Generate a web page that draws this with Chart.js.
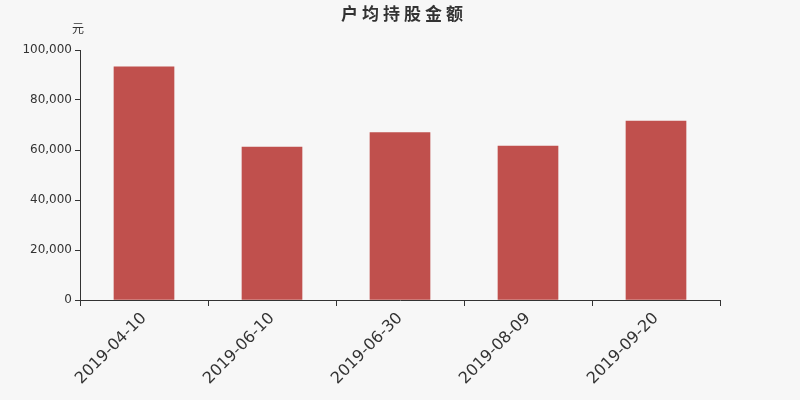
<!DOCTYPE html>
<html>
<head>
<meta charset="utf-8">
<script src="https://cdn.jsdelivr.net/npm/chart.js@4"></script>
<style>
  body { margin: 0; background: #f7f7f7; }
  #wrap { width: 800px; height: 400px; }
</style>
</head>
<body>
<div id="wrap"><canvas id="holding-chart" width="800" height="400"></canvas></div>
<script>
var dates = ["2019-04-10", "2019-06-10", "2019-06-30", "2019-08-09", "2019-09-20"];
var amounts = [93300, 61200, 67000, 61600, 71600];
var yTicks = [0, 20000, 40000, 60000, 80000, 100000];
var chartTitle = '户均持股金额';
var unitLabel = '元';

window.addEventListener("load", init);

// page colour, title (spaced out like the original) and the unit over the y axis
const bgAndText = {
    id: 'bgAndText',
    beforeDraw(chart) {
        const ctx = chart.ctx;
        ctx.save();
        ctx.fillStyle = '#f7f7f7';
        ctx.fillRect(0, 0, chart.width, chart.height);
        ctx.restore();
    },
    afterDraw(chart) {
        const ctx = chart.ctx;
        const y = chart.scales.y;
        ctx.save();
        ctx.fillStyle = '#333';
        ctx.textAlign = 'center';
        ctx.textBaseline = 'middle';
        ctx.font = "bold 17px 'Noto Sans CJK SC'";
        ctx.letterSpacing = '4px';
        ctx.fillText(chartTitle, chart.width / 2 + 4, 14);
        ctx.letterSpacing = '0px';
        ctx.font = "12px 'Noto Sans CJK SC'";
        ctx.fillText(unitLabel, y.right - 2, y.top - 22);
        ctx.restore();
    }
};

function init() {
    Chart.defaults.font.family = "'DejaVu Sans'";
    Chart.defaults.color = '#333';

    const data = {
        labels: dates,
        datasets: [
            {
                label: chartTitle,
                data: amounts,
                backgroundColor: '#c0504d',
                borderWidth: 0,
                barThickness: 60,
            }
        ]
    };

    const config = {
        type: 'bar',
        data: data,
        options: {
            responsive: false,
            animation: false,
            layout: {
                padding: { left: 0, right: 80, top: 50, bottom: 0 }
            },
            plugins: {
                legend: { display: false },
                tooltip: { enabled: false },
                title: { display: false }
            },
            scales: {
                x: {
                    grid: {
                        display: true,
                        offset: true,
                        drawOnChartArea: false,
                        tickLength: 6,
                        color: '#333'
                    },
                    border: { display: true, color: '#333' },
                    ticks: {
                        minRotation: 45,
                        maxRotation: 45,
                        color: '#333',
                        font: { size: 16 }
                    },
                    afterFit: function (scale) { scale.height = 100; }
                },
                y: {
                    min: 0,
                    max: 100000,
                    afterBuildTicks: function (scale) {
                        scale.ticks = yTicks.map(function (v) { return { value: v }; });
                    },
                    grid: {
                        display: true,
                        drawOnChartArea: false,
                        tickLength: 5,
                        color: '#333'
                    },
                    border: { display: true, color: '#333' },
                    ticks: {
                        color: '#333',
                        padding: 3,
                        font: { size: 12 },
                        callback: function (v) { return v.toLocaleString('en-US'); }
                    },
                    afterFit: function (scale) { scale.width = 80; }
                }
            }
        },
        plugins: [bgAndText]
    };
    const holdingChart = new Chart(document.getElementById("holding-chart"), config);
}
</script>
</body>
</html>
